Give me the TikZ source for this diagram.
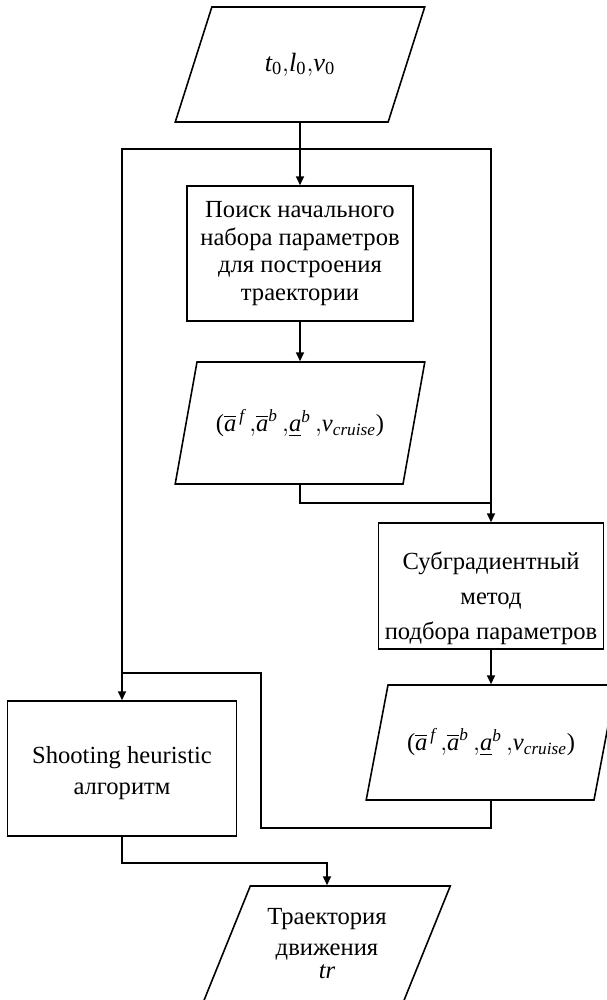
\documentclass[tikz,border=0pt]{standalone}
\usepackage{fontspec}
\usepackage{amsmath}
\setmainfont{Liberation Serif}
\usetikzlibrary{shapes.geometric, arrows.meta}

\newcommand{\abar}{\overline{\textit{a}}}
\newcommand{\paramset}{$\textrm{(}\abar^{\,\textit{f}}\,{,}\abar^{\textit{b}}\,{,}\underline{\textit{a}}^{\textit{b}}\,{,}\textit{v}_{\textit{cruise}}\textrm{)}$}

\begin{document}
\begin{tikzpicture}[x=0.02cm, y=-0.02cm, line width=0.9pt,
	proc/.style={draw, rectangle, align=center, font=\fontsize{14}{15.7}\selectfont},
	iobox/.style={draw, trapezium, trapezium left angle=64, trapezium right angle=116,
		trapezium stretches=true, minimum width=5cm, minimum height=2.3cm,
		align=center, font=\fontsize{14}{15.7}\selectfont},
	link/.style={-{Triangle[length=5pt,width=4.5pt]}}]

	\useasboundingbox (0,0) rectangle (607,1000);

	\node[iobox] (start) at (300,64.5) {\fontsize{15}{17}\selectfont$\textit{t}_{\textrm{0}}{,}\textit{l}_{\textrm{0}}{,}\textit{v}_{\textrm{0}}$};
	\node[proc, minimum width=4.52cm, minimum height=2.7cm] (search) at (300,253.5)
		{Поиск начального\\набора параметров\\для построения\\траектории};
	\node[iobox, minimum height=2.44cm] (par1) at (300,423) {\paramset};

	\node[proc, inner ysep=0pt, minimum width=4.5cm, minimum height=2.52cm] (subgrad) at (491,586)
		{\rule{0pt}{24pt}Субградиентный\\[4pt]метод\\[4pt]подбора параметров};
	\node[iobox] (par2) at (491,742.5) {\paramset};

	\node[proc, minimum width=4.58cm, minimum height=2.7cm] (shoot) at (122,768.5)
		{\rule{0pt}{15pt}Shooting heuristic\\[2pt]алгоритм};
	\node[iobox, minimum width=4.94cm] (finish) at (327,943.5)
		{Траектория\\[2pt]движения\\[-3pt]\textit{tr}};

	\coordinate (split) at (300,149);  % fork under the input
	\coordinate (mergeA) at (491,503); % first set joins right line
	\coordinate (back) at (261,673);
	\coordinate (mergeB) at (122,673); % second set joins left line

	\draw[link] (start.south) -- (search.north);
	\draw[link] (split) -| (shoot.north);   % left
	\draw[link] (split) -| (subgrad.north); % right
	\draw[link] (search.south) -- (par1.north);
	\draw (par1.south) |- (mergeA);
	\draw[link] (subgrad.south) -- (par2.north);
	\draw (par2.south) -- ++(0,27) -| (back) -- (mergeB);
	\draw[link] (shoot.south) -- ++(0,26) -| (finish.north);
\end{tikzpicture}
\end{document}
